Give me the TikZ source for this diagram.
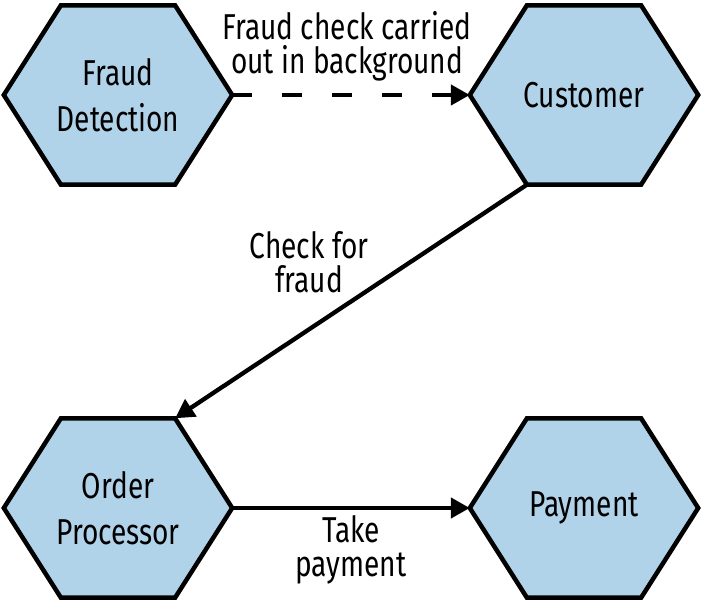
\documentclass[tikz,border=0pt]{standalone}
\usepackage{fontspec}
\setmainfont{Fira Sans}[FakeStretch=0.78]
\usetikzlibrary{arrows.meta,calc,backgrounds}
\definecolor{hexfill}{RGB}{177,211,233}
\newcommand\hexof[1]{\path[hexline] (#1.west) -- ($(#1.north west)!0.25!(#1.north east)$) -- ($(#1.north west)!0.75!(#1.north east)$) -- (#1.east) -- ($(#1.south west)!0.75!(#1.south east)$) -- ($(#1.south west)!0.25!(#1.south east)$) -- cycle;}
\begin{document}
\begin{tikzpicture}[x=1pt,y=-1pt,
  hexbox/.style={minimum width=228pt,minimum height=179pt,inner sep=0pt,align=center,font=\fontsize{36}{46}\selectfont},
  hexline/.style={draw=black,fill=hexfill,line width=4.5pt,line join=miter},
  flow/.style={line width=4.3pt,-{Triangle[length=19pt,width=20pt]}},
  lbl/.style={align=center,inner sep=0pt,font=\fontsize{36}{34}\selectfont}]
\useasboundingbox (0,0) rectangle (703,601);
\node[hexbox] (fd) at (118,95) {Fraud\\Detection};
\node[hexbox] (cu) at (584,95) {Customer};
\node[hexbox] (op) at (118,508) {Order\\Processor};
\node[hexbox] (pa) at (584,508) {Payment};
\begin{scope}[on background layer]
\path[hexline] (fd.west) -- ($(fd.north west)!0.25!(fd.north east)$) -- ($(fd.north west)!0.75!(fd.north east)$) -- (fd.east) -- ($(fd.south west)!0.75!(fd.south east)$) -- ($(fd.south west)!0.25!(fd.south east)$) -- cycle;
\hexof{cu}
\hexof{op}
\hexof{pa}
\end{scope}
\coordinate (cuBL) at ($(cu.south west)!0.25!(cu.south east)$);
\coordinate (opTR) at ($(op.north west)!0.75!(op.north east)$);
\draw[flow,dash pattern=on 20pt off 30pt] (fd.east) -- (cu.west);
\draw[flow] (cuBL) -- (opTR);
\draw[flow] (op.east) -- (pa.west);
\node[lbl] (l1) at (347,46) {Fraud check carried\\out in background};
\node[lbl] (l2) at (309,262) {Check for\\fraud};
\node[lbl] (l3) at (351,550) {Take\\payment};
\end{tikzpicture}
\end{document}
